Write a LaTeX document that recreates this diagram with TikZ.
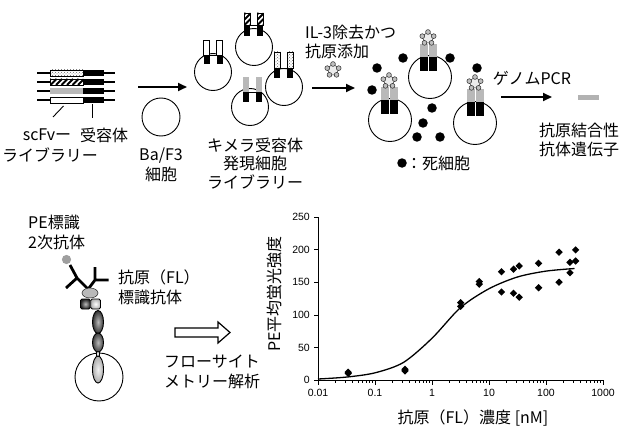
\documentclass[tikz,border=0pt]{standalone}
\usepackage{fontspec}
\setmainfont{Noto Sans CJK JP}
\newfontfamily\numfont{Liberation Sans}
\usetikzlibrary{arrows.meta,patterns,shapes.geometric}

% filled boxes used for the scFv parts: #1 x1, #2 y1 (top), #3 x2, #4 y2 (bottom)
\newcommand{\whiterect}[4]{\draw[fill=white, line width=0.5pt] ({#1},{#2}) rectangle ({#3},{#4});}
\newcommand{\grayrect}[4]{\fill[gray!55] ({#1},{#2}) rectangle ({#3},{#4});}
\newcommand{\dotrect}[4]{%
  \fill[white] ({#1},{#2}) rectangle ({#3},{#4});
  \path[pattern=crosshatch dots, pattern color=gray!80!black] ({#1},{#2}) rectangle ({#3},{#4});
  \draw[line width=0.5pt] ({#1},{#2}) rectangle ({#3},{#4});}
\newcommand{\hatchrect}[4]{%
  \begin{scope}
    \clip ({#1},{#2}) rectangle ({#3},{#4});
    \fill[white] ({#1},{#2}) rectangle ({#3},{#4});
    \foreach \k in {-16,-10.5,...,44}
      \draw[line width=1.8pt] ({(#1)+\k},{#4}) -- ({(#1)+\k+(#4)-(#2)},{#2});
  \end{scope}
  \draw[line width=0.5pt] ({#1},{#2}) rectangle ({#3},{#4});}

% a pair of chimeric receptor chains: #1 centre x, #2 top, #3 junction, #4 bottom, #5 box macro
\newcommand{\chainpair}[5]{%
  \foreach \s in {-1,1}{%
    #5{#1+\s*6.5-3}{#2}{#1+\s*6.5+3}{#3}
    \fill[black] ({#1+\s*6.5-3},{#3}) rectangle ({#1+\s*6.5+3},{#4});
  }%
  \draw[line width=0.8pt] ({#1-3.5},{#3}) -- ({#1+3.5},{#3});}

% receptor pair after antigen binding: #1 centre x, #2 top, #3 junction, #4 bottom
\newcommand{\boundpair}[4]{%
  \foreach \s in {-1,1}{%
    \fill[gray!55] ({#1+\s*4.5-4},{#2}) rectangle ({#1+\s*4.5+4},{#3});
    \fill[black] ({#1+\s*4.5-4},{#3}) rectangle ({#1+\s*4.5+4},{#4});
  }}

\tikzset{
  antigen/.pic={
    \path[fill=gray!15, draw=black!80, line width=0.5pt]
      (-90:6) -- (-18:6) -- (54:6) -- (126:6) -- (198:6) -- cycle;
    \foreach \a in {-90,-18,54,126,198}
      \path[fill=gray!50, draw=black!85, line width=0.5pt] (\a:6) circle (2.4);
  }
}

\begin{document}
\begin{tikzpicture}[x=1pt,y=-1pt,
  lbl/.style={font=\fontsize{16}{19.5}\selectfont, align=center, inner sep=0pt},
  flow/.style={line width=2pt, -{Triangle[length=9pt,width=8pt]}},
  cellc/.style={circle, draw, line width=0.9pt, inner sep=0pt},
  deadc/.style={circle, fill=black, inner sep=0pt, minimum size=9.5pt},
  datum/.style={diamond, fill=black, inner sep=0pt, minimum size=7.5pt},
  ticklbl/.style={font=\numfont\fontsize{10.5}{12}\selectfont, inner sep=0pt},
  axislbl/.style={font=\fontsize{16}{19}\selectfont, inner sep=0pt},
  ab/.style={line width=2.8pt}]

\fill[white] (0,0) rectangle (622,428);
\useasboundingbox (0,0) rectangle (622,428);

% ---------- scFv-receptor library ----------
\foreach \y/\m in {73/\dotrect, 82/\hatchrect, 91/\grayrect, 100/\whiterect}{
  \draw[line width=1.3pt] (37,\y) -- (50,\y) (104,\y) -- (115,\y);
  \m{50}{\y-3}{83}{\y+3}
  \fill[black] (83,{\y-3}) rectangle (104,{\y+3});
}
\draw[line width=0.9pt] (63.5,106) -- (53,117);
\draw[line width=0.9pt] (92.5,104) -- (92.5,118);
\node[lbl] (scfv) at (47,135) {scFvー};
\node[lbl] (recp) at (104,135) {受容体};
\node[lbl] (lib) at (50,155) {ライブラリー};

\coordinate (f1s) at (138,87);
\coordinate (f1e) at (187,87);
\draw[flow] (f1s) -- (f1e);

% ---------- Ba/F3 cell ----------
\node[cellc, minimum size=38pt] (baf) at (161,117) {};
\node[lbl] (baflbl) at (161,165) {Ba/F3\\細胞};

% ---------- chimeric receptor expressing cells ----------
\node[cellc, minimum size=37pt] (cA) at (213,72) {};
\node[cellc, minimum size=37pt] (cB) at (254,47) {};
\node[cellc, minimum size=37pt] (cC) at (250,107) {};
\node[cellc, minimum size=37pt] (cD) at (284,87) {};
\chainpair{213}{40}{55}{64}{\whiterect}
\chainpair{253.5}{13}{25}{36}{\hatchrect}
\chainpair{252}{77}{92}{102}{\grayrect}
\chainpair{283.5}{52}{68}{78}{\dotrect}
\node[lbl, font=\fontsize{16}{18.5}\selectfont] (clib) at (255,163.5) {キメラ受容体\\発現細胞\\ライブラリー};

% ---------- selection ----------
\node[lbl, align=left, anchor=west] (sel) at (305,42) {IL-3除去かつ\\抗原添加};
\pic (agfree) at (333,70) {antigen};
\coordinate (f2s) at (312,88);
\coordinate (f2e) at (355,88);
\draw[flow] (f2s) -- (f2e);

\node[cellc, minimum size=43pt] (cE) at (390,120) {};
\node[cellc, minimum size=43pt] (cF) at (430,77) {};
\node[cellc, minimum size=43pt] (cG) at (475,123) {};
\boundpair{389}{87}{100}{114}
\boundpair{428}{44}{57}{71}
\boundpair{475}{89}{102}{116}
\pic (agE) at (389,81) {antigen};
\pic (agF) at (428,38) {antigen};
\pic (agG) at (475,83) {antigen};

\foreach \x/\y [count=\i] in {377/68, 372/90, 403/58, 450/58, 477/68, 432/108, 423/123, 417/137, 440/137}
  \node[deadc] (dead\i) at (\x,\y) {};
\node[deadc] (deadkey) at (402,163) {};
\node[lbl, anchor=west] (deadlbl) at (406,163) {：死細胞};

% ---------- genomic PCR ----------
\node[lbl] (pcr) at (532,78) {ゲノムPCR};
\coordinate (f3s) at (501,97);
\coordinate (f3e) at (552,97);
\draw[flow] (f3s) -- (f3e);
\fill[gray!60] (578,95) rectangle (599,100.5);
\node[lbl, align=left, anchor=west] (gene) at (539,140) {抗原結合性\\抗体遺伝子};

% ---------- flow cytometry scheme ----------
\node[lbl, align=left, anchor=west] (pe) at (28,232.5) {PE標識\\2次抗体};
\node[lbl, align=left, anchor=west] (flab) at (118,287.5) {抗原（FL）\\標識抗体};

\node[cellc, minimum size=48pt] (fcell) at (99,377) {};
\fill[gray!75] (66.5,259.5) circle (4.6);
\draw[ab] (70,265) -- (77,278) -- (66,288) (77,278) -- (88,289);
\draw[ab] (95,267) -- (95,280) -- (108.5,280) (95,280) -- (86,292);
\draw[fill=gray!55, draw=gray!30!black, line width=0.5pt] (90,293) ellipse [x radius=8, y radius=5];
\shade[inner color=gray!55, outer color=black!85, rounded corners=1.5pt] (80.5,299) rectangle (90.3,309);
\draw[line width=0.8pt, rounded corners=1.5pt] (80.5,299) rectangle (90.3,309);
\shade[inner color=white, outer color=gray!60, rounded corners=1.5pt] (90.7,299) rectangle (100.5,309);
\draw[line width=0.8pt, rounded corners=1.5pt] (90.7,299) rectangle (100.5,309);
\draw[fill=gray!25, line width=0.6pt] (96.5,351) rectangle (99.5,357);
\shade[inner color=gray!55, outer color=black!80] (98,322) ellipse [x radius=5.5, y radius=11.5];
\draw[line width=0.9pt] (98,322) ellipse [x radius=5.5, y radius=11.5];
\shade[inner color=gray!55, outer color=black!75] (98,342.5) ellipse [x radius=5.5, y radius=9.5];
\draw[line width=0.9pt] (98,342.5) ellipse [x radius=5.5, y radius=9.5];
\shade[inner color=gray!10, outer color=gray!65] (98,369.5) ellipse [x radius=5.5, y radius=13.5];
\draw[line width=0.9pt] (98,369.5) ellipse [x radius=5.5, y radius=13.5];

\draw[line width=1.2pt] (175,328) -- (218,328) -- (218,322) -- (230,332.5) -- (218,343) -- (218,337) -- (175,337) -- cycle;
\node[lbl] (facs) at (212,372) {フローサイト\\メトリー解析};

% ---------- binding curve ----------
\node[axislbl, rotate=90] (ylab) at (275,294) {PE平均蛍光強度};
\node[axislbl] (xlab) at (473,418) {抗原（FL）濃度 [nM]};
\begin{scope}[shift={(318,380)}, x=57pt, y=0.652pt]
  \draw[line width=0.8pt] (0,0) -- (5,0);
  \draw[line width=0.8pt] (0,0) -- (0,250);
  \foreach \v in {0,50,...,250}{
    \draw[line width=0.6pt] (0,\v) -- ++(-4pt,0);
    \node[ticklbl, anchor=east] (yt\v) at ([xshift=-8pt]0,\v) {\v};
  }
  \foreach \u/\t in {0/0.01,1/0.1,2/1,3/10,4/100,5/1000}{
    \draw[line width=0.6pt] (\u,0) -- ++(0,-4.5pt);
    \node[ticklbl] (xt\u) at ([yshift=-13pt]\u,0) {\t};
  }
  \foreach \u in {0,...,4}
    \foreach \k in {2,...,9}
      \draw[line width=0.5pt] ({\u+log10(\k)},0) -- ++(0,-2.5pt);
  \draw[line width=1.3pt] plot[smooth] coordinates {
    (0,1.5) (0.5,4.5) (1,11) (1.5,27) (2,64) (2.5,111) (3,140) (3.5,158) (4,167) (4.5,171)};
  \foreach \u/\v [count=\i] in {
      0.53/12, 0.53/10, 1.526/16.5, 1.526/14,
      2.503/118.5, 2.503/113, 2.83/151, 2.83/147,
      3.22/166, 3.22/135, 3.43/170, 3.43/133, 3.53/175, 3.53/127,
      3.87/179, 3.87/141.5, 4.23/196, 4.23/150,
      4.42/180.5, 4.42/164.5, 4.52/199.5, 4.52/182.5}
    \node[datum] (pt\i) at (\u,\v) {};
\end{scope}

\end{tikzpicture}
\end{document}
